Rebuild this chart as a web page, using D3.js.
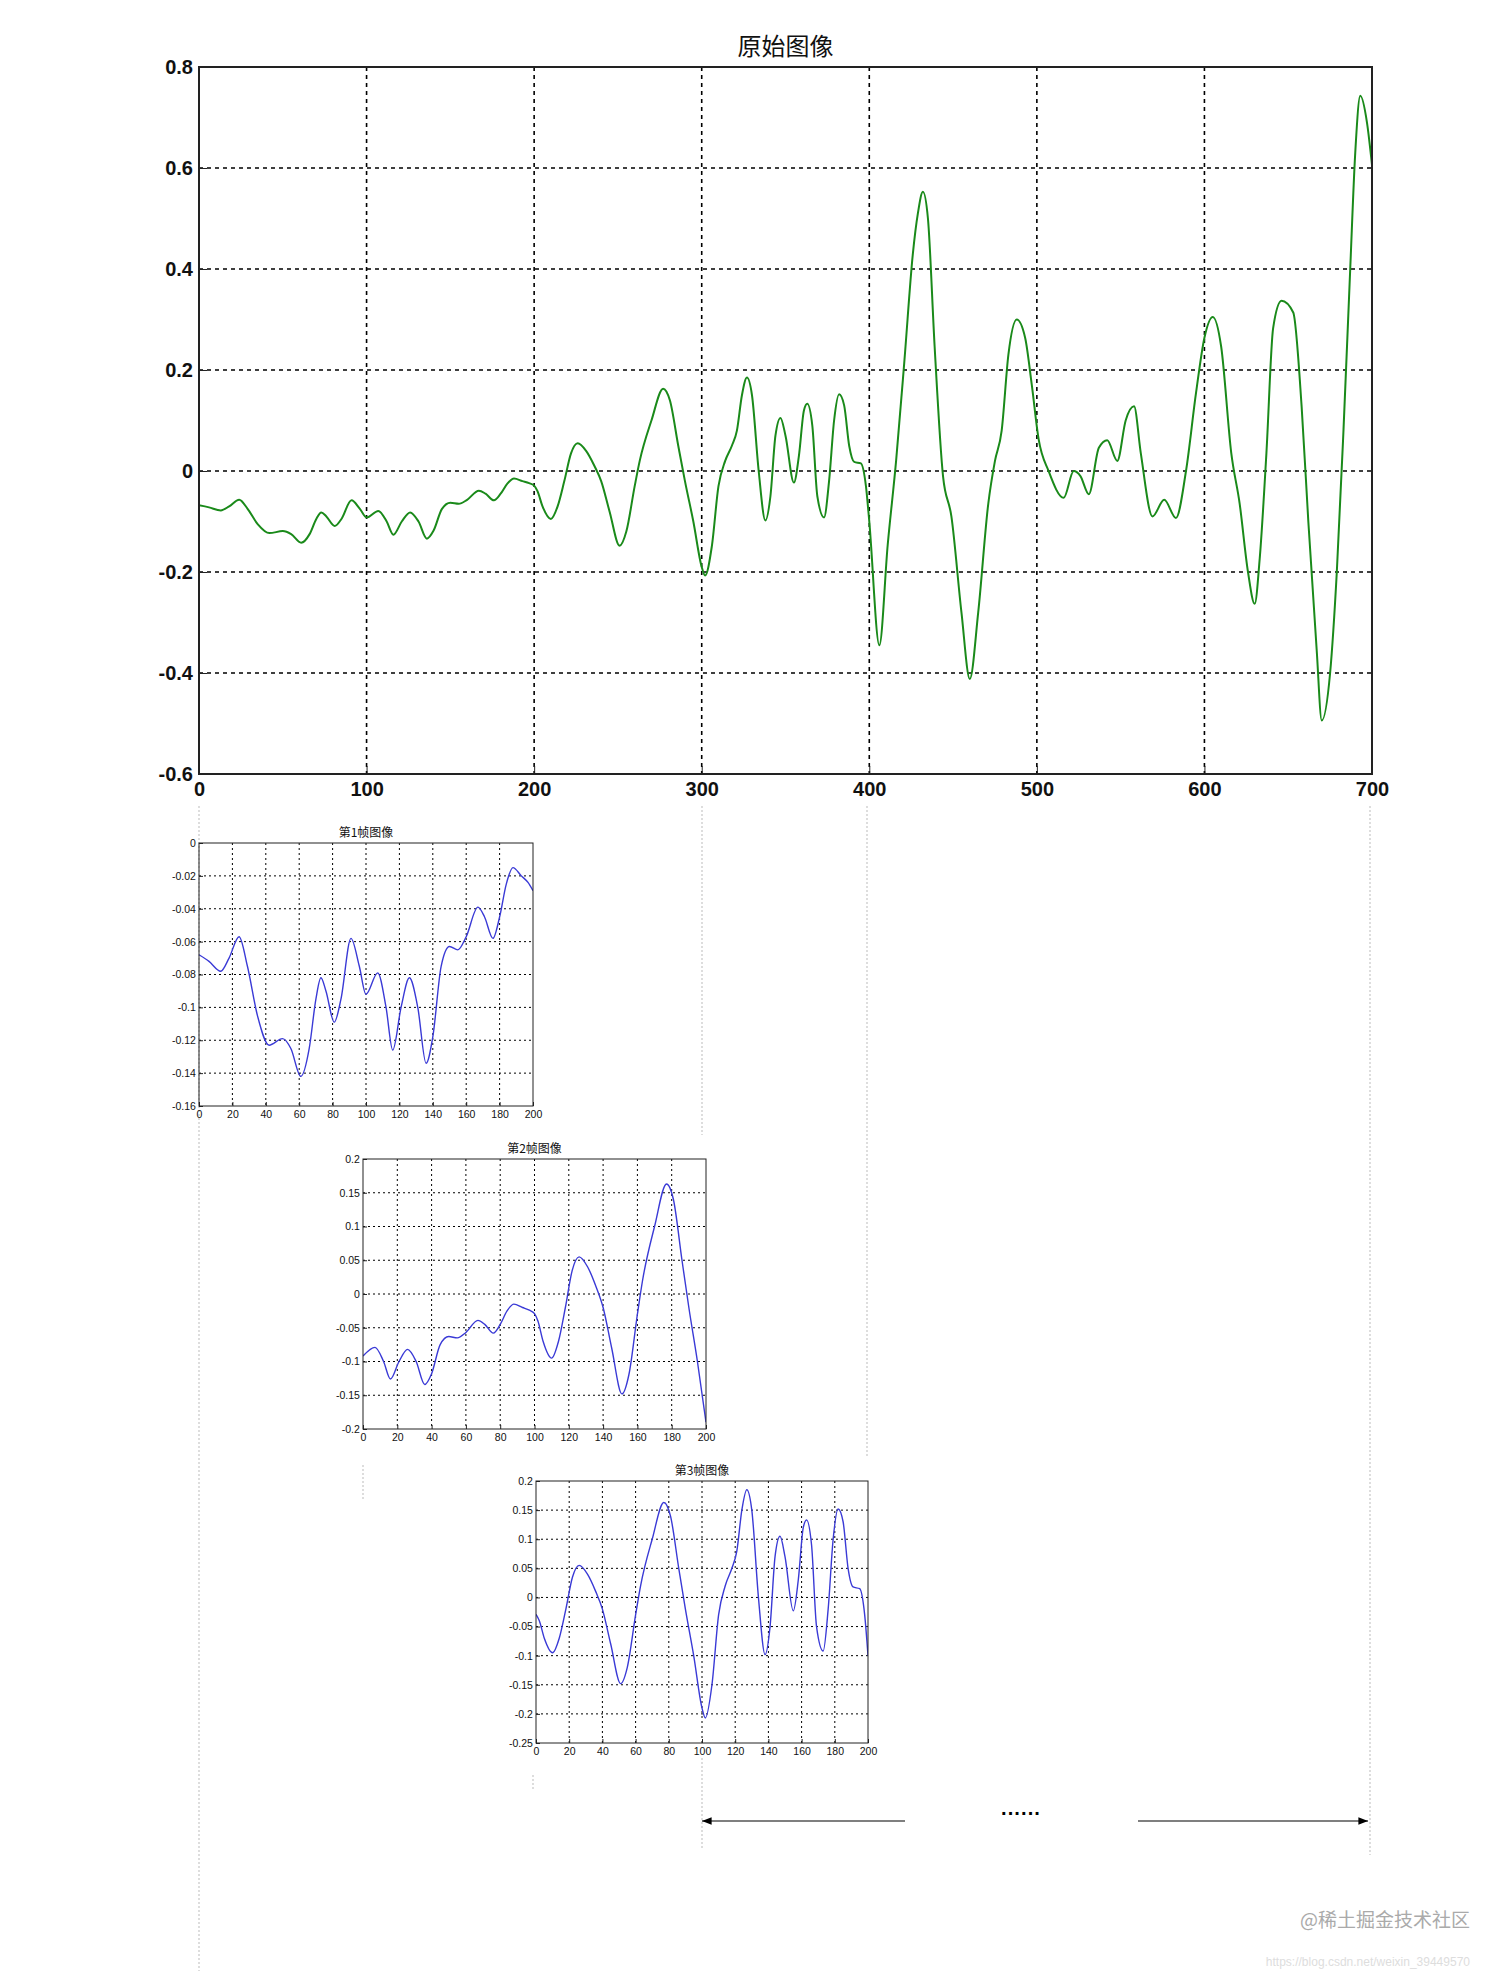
<!DOCTYPE html>
<html><head><meta charset="utf-8">
<script src="https://cdn.jsdelivr.net/npm/d3@7"></script>
<style>body{margin:0;background:#fff}svg{display:block}</style>
</head><body>
<script>
// Signal keypoints (sample index, value)
const sampleX = [0,6,13,18,24,29,35,42,50,55,61,66,70,73,76,81,85,91,96,100,107,112,116,121,126,131,136,140,145,150,155,160,167,171,176,180,184,188,193,197,200,
202,205,210,214,218,222,226,231,236,240,245,251,255,260,263,270,277,281,286,290,295,300,
302,306,310,314,318,321,324,327,330,334,338,341,344,347,350,355,358,361,363,366,369,373,376,379,382,385,388,391,395,398,400,
406,411,416,421,426,429,432,435,439,444,449,455,460,465,471,475,479,483,488,493,497,501,507,516,522,526,531,537,542,548,553,558,562,569,576,583,589,595,600,605,610,616,621,626,630,633,637,641,646,653,658,662,667,670,675,679,683,687,690,693,697,700];
const sampleY = [-0.068,-0.072,-0.078,-0.07,-0.057,-0.075,-0.105,-0.123,-0.119,-0.125,-0.142,-0.125,-0.095,-0.082,-0.09,-0.109,-0.095,-0.058,-0.075,-0.092,-0.079,-0.1,-0.126,-0.1,-0.082,-0.1,-0.134,-0.118,-0.075,-0.063,-0.065,-0.057,-0.039,-0.045,-0.058,-0.045,-0.025,-0.015,-0.02,-0.024,-0.029,
-0.04,-0.07,-0.095,-0.07,-0.02,0.035,0.055,0.04,0.01,-0.02,-0.08,-0.148,-0.12,-0.03,0.02,0.1,0.163,0.14,0.05,-0.02,-0.1,-0.19,
-0.207,-0.15,-0.03,0.02,0.05,0.08,0.15,0.185,0.15,0.0,-0.098,-0.05,0.07,0.105,0.07,-0.023,0.03,0.12,0.133,0.09,-0.05,-0.092,-0.02,0.1,0.152,0.13,0.05,0.018,0.015,-0.03,-0.1,
-0.345,-0.146,0.02,0.22,0.43,0.51,0.553,0.5,0.246,-0.01,-0.09,-0.28,-0.412,-0.28,-0.065,0.02,0.08,0.23,0.3,0.264,0.17,0.064,0,-0.053,0,-0.01,-0.046,0.046,0.061,0.02,0.1,0.128,0.036,-0.09,-0.057,-0.093,0,0.155,0.264,0.305,0.246,0.036,-0.064,-0.2,-0.263,-0.173,0.036,0.283,0.337,0.314,0.128,-0.1,-0.355,-0.494,-0.40,-0.2,0.082,0.4,0.63,0.743,0.69,0.606];

const mainTitle = "原始图像";
const mainXTicks = [0,100,200,300,400,500,600,700];
const mainYTicks = [-0.6,-0.4,-0.2,0,0.2,0.4,0.6,0.8];

const frameTitles = ["第1帧图像","第2帧图像","第3帧图像"];
const frameStarts = [0,100,200];
const frameYDomains = [[-0.16,0],[-0.2,0.2],[-0.25,0.2]];
const frameYSteps = [0.02,0.05,0.05];
const frameXTicks = [0,20,40,60,80,100,120,140,160,180,200];

const W=1512,H=1971;
const svg=d3.select("body").append("svg").attr("width",W).attr("height",H);
const pts=sampleX.map((x,i)=>[x,sampleY[i]]);

// faint guide lines
const guides=[[199,806,1971],[702,806,1135],[702,1758,1850],[867,806,1457],[1370,806,1855],[363,1465,1500],[533,1775,1790]];
guides.forEach(g=>svg.append("line").attr("x1",g[0]).attr("x2",g[0]).attr("y1",g[1]).attr("y2",g[2])
  .attr("stroke","#bbb").attr("stroke-width",1).attr("stroke-dasharray","2,2"));

function fmt(v){ let s=(+v.toFixed(3)).toString(); return s; }

function plot(o){
  const x=d3.scaleLinear().domain(o.xd).range([o.l,o.r]);
  const y=d3.scaleLinear().domain(o.yd).range([o.b,o.t]);
  const g=svg.append("g");
  // grid
  o.xt.forEach(v=>{ if(v>o.xd[0]&&v<o.xd[1]) g.append("line").attr("x1",x(v)).attr("x2",x(v)).attr("y1",o.t).attr("y2",o.b)
    .attr("stroke","#000").attr("stroke-width",o.gw).attr("stroke-dasharray",o.dash);});
  o.yt.forEach(v=>{ if(v>o.yd[0]+1e-9&&v<o.yd[1]-1e-9) g.append("line").attr("x1",o.l).attr("x2",o.r).attr("y1",y(v)).attr("y2",y(v))
    .attr("stroke","#000").attr("stroke-width",o.gw).attr("stroke-dasharray",o.dash);});
  const id="c"+Math.round(o.l)+"_"+Math.round(o.t);
  svg.append("clipPath").attr("id",id).append("rect").attr("x",o.l).attr("y",o.t).attr("width",o.r-o.l).attr("height",o.b-o.t);
  g.append("path").datum(o.data).attr("clip-path","url(#"+id+")")
    .attr("d",d3.line().x(d=>x(d[0])).y(d=>y(d[1])).curve(d3.curveMonotoneX))
    .attr("fill","none").attr("stroke",o.color).attr("stroke-width",o.lw);
  g.append("rect").attr("x",o.l).attr("y",o.t).attr("width",o.r-o.l).attr("height",o.b-o.t)
    .attr("fill","none").attr("stroke","#222").attr("stroke-width",o.fw);
  const xa=g.append("g").attr("transform",`translate(0,${o.b})`).call(d3.axisBottom(x).tickValues(o.xt).tickSize(-o.tk).tickFormat(d3.format("d")));
  const ya=g.append("g").attr("transform",`translate(${o.l},0)`).call(d3.axisLeft(y).tickValues(o.yt).tickSize(-o.tk).tickFormat(fmt));
  [xa,ya].forEach(a=>{a.select(".domain").remove();a.selectAll("line").attr("stroke","#222");
    a.selectAll("text").attr("font-family","Liberation Sans, Arial, sans-serif").attr("font-size",o.fs).attr("font-weight",o.fwt).attr("fill","#111");});
  xa.selectAll("text").attr("dy","0.75em").attr("y",o.fs*0.35);
  ya.selectAll("text").attr("x",-o.fs*0.3);
  g.append("text").attr("x",(o.l+o.r)/2).attr("y",o.t-o.tp).attr("text-anchor","middle")
    .attr("font-family","Noto Sans CJK SC, sans-serif").attr("font-size",o.ts).attr("fill","#111").text(o.title);
}

plot({l:199,r:1372,t:67,b:774,xd:[0,700],yd:[-0.6,0.8],xt:mainXTicks,yt:mainYTicks,data:pts,color:"#1a8a1a",lw:2,
  gw:1.6,dash:"4,4",fw:2,tk:8,fs:20,fwt:"bold",ts:24,tp:12,title:mainTitle});

const frameBoxes=[[199,533,843,1106],[363,706,1159,1429],[536,868,1481,1743]];
frameBoxes.forEach((bx,i)=>{
  const s=frameStarts[i];
  const data=pts.filter(p=>p[0]>=s&&p[0]<=s+200).map(p=>[p[0]-s,p[1]]);
  const [y0,y1]=frameYDomains[i];
  const yt=d3.range(Math.round((y1-y0)/frameYSteps[i])+1).map(k=>+(y0+k*frameYSteps[i]).toFixed(3));
  plot({l:bx[0],r:bx[1],t:bx[2],b:bx[3],xd:[0,200],yd:[y0,y1],xt:frameXTicks,yt:yt,data:data,color:"#3a3ad6",lw:1.4,
    gw:1,dash:"2,3",fw:1,tk:4,fs:10.5,fwt:"normal",ts:12,tp:6,title:frameTitles[i]});
});

// arrows
svg.append("defs").html('<marker id="ah" viewBox="0 0 10 10" refX="10" refY="5" markerWidth="8" markerHeight="8" orient="auto-start-reverse"><path d="M0,1 L10,5 L0,9 z" fill="#000"/></marker>');
svg.append("line").attr("x1",905).attr("x2",702).attr("y1",1821).attr("y2",1821).attr("stroke","#000").attr("stroke-width",1.2).attr("marker-end","url(#ah)");
svg.append("line").attr("x1",1138).attr("x2",1368).attr("y1",1821).attr("y2",1821).attr("stroke","#000").attr("stroke-width",1.2).attr("marker-end","url(#ah)");
svg.append("text").attr("x",1021).attr("y",1820).attr("text-anchor","middle").attr("font-family","Liberation Sans, sans-serif").attr("font-size",20).attr("font-weight","bold").text("······");

svg.append("text").attr("x",1470).attr("y",1927).attr("text-anchor","end").attr("font-family","Noto Sans CJK SC, sans-serif").attr("font-size",19).attr("fill","#aaa").text("@稀土掘金技术社区");
svg.append("text").attr("x",1470).attr("y",1966).attr("text-anchor","end").attr("font-family","Liberation Sans, sans-serif").attr("font-size",12).attr("fill","#ddd").text("https://blog.csdn.net/weixin_39449570");
</script>
</body></html>
